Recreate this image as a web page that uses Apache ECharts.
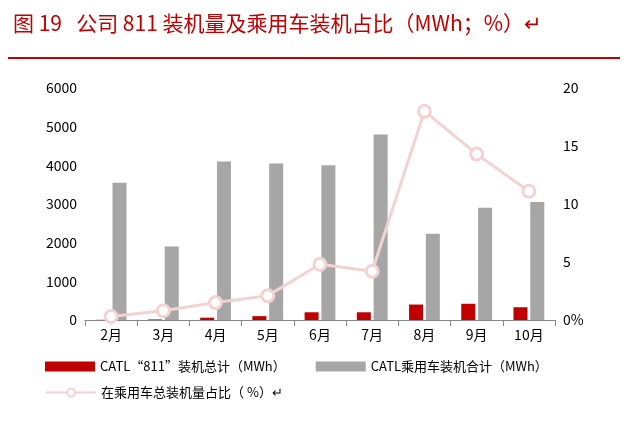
<!DOCTYPE html>
<html><head><meta charset="utf-8">
<script src="https://cdn.jsdelivr.net/npm/echarts@6/dist/echarts.min.js"></script>
<style>body{margin:0;background:#fff}#c{width:635px;height:424px}</style>
</head><body><div id="c"></div>
<script>
var months = ['2月','3月','4月','5月','6月','7月','8月','9月','10月'];
var total811 = [5, 15, 60, 100, 200, 200, 400, 420, 330];
var passengerTotal = [3550, 1900, 4100, 4050, 4000, 4800, 2230, 2900, 3050];
var share = [0.3, 0.8, 1.5, 2.1, 4.8, 4.2, 18, 14.3, 11.1];

var chart = echarts.init(document.getElementById('c'));
var font = 'Noto Sans CJK SC';
var legendText = {fontSize: 13, color: '#000'};
chart.setOption({
    animation: false,
    textStyle: {fontFamily: font},
    title: {
        text: '图 19   公司 811 装机量及乘用车装机占比（MWh；%）↵',
        left: 8, top: 8,
        textStyle: {color: '#c00000', fontSize: 21, fontWeight: 'normal', fontFamily: font}
    },
    graphic: [{type: 'rect', shape: {x: 8, y: 57, width: 612, height: 2}, style: {fill: '#c00000'}}],
    grid: {left: 85, right: 80, top: 88, bottom: 104},
    legend: [{
        top: 360, left: 45, itemGap: 30, padding: 0,
        textStyle: legendText, itemWidth: 50, itemHeight: 10,
        data: [
            {name: 'CATL“811”装机总计（MWh）', icon: 'rect'},
            {name: 'CATL乘用车装机合计（MWh）', icon: 'rect'}
        ]
    }, {
        top: 386, left: 45, padding: 0,
        textStyle: legendText, itemWidth: 50, itemHeight: 10,
        data: ['在乘用车总装机量占比（ %）↵']
    }],
    xAxis: {
        type: 'category', data: months,
        axisLine: {lineStyle: {color: '#888'}},
        axisTick: {show: true, length: 6, lineStyle: {color: '#888'}},
        axisLabel: {color: '#000', fontSize: 14}
    },
    yAxis: [
        {type: 'value', min: 0, max: 6000, interval: 1000,
         splitLine: {show: false}, axisLine: {show: false},
         axisLabel: {color: '#000', fontSize: 14, formatter: function (v) { return v + ''; }}},
        {type: 'value', min: 0, max: 20, interval: 5,
         splitLine: {show: false}, axisLine: {show: false},
         axisLabel: {color: '#000', fontSize: 14, formatter: function (v) { return v === 0 ? '0%' : v + ''; }}}
    ],
    series: [
        {name: 'CATL“811”装机总计（MWh）', type: 'bar', data: total811, barWidth: 14, barGap: '20%',
         itemStyle: {color: '#c00000'}},
        {name: 'CATL乘用车装机合计（MWh）', type: 'bar', data: passengerTotal, barWidth: 14,
         itemStyle: {color: '#a6a6a6'}},
        {name: '在乘用车总装机量占比（ %）↵', type: 'line', yAxisIndex: 1, data: share,
         symbol: 'circle', symbolSize: 12,
         lineStyle: {color: '#f2d3d3', width: 3},
         itemStyle: {color: '#fff', borderColor: '#f2d3d3', borderWidth: 3}}
    ]
});
</script></body></html>
